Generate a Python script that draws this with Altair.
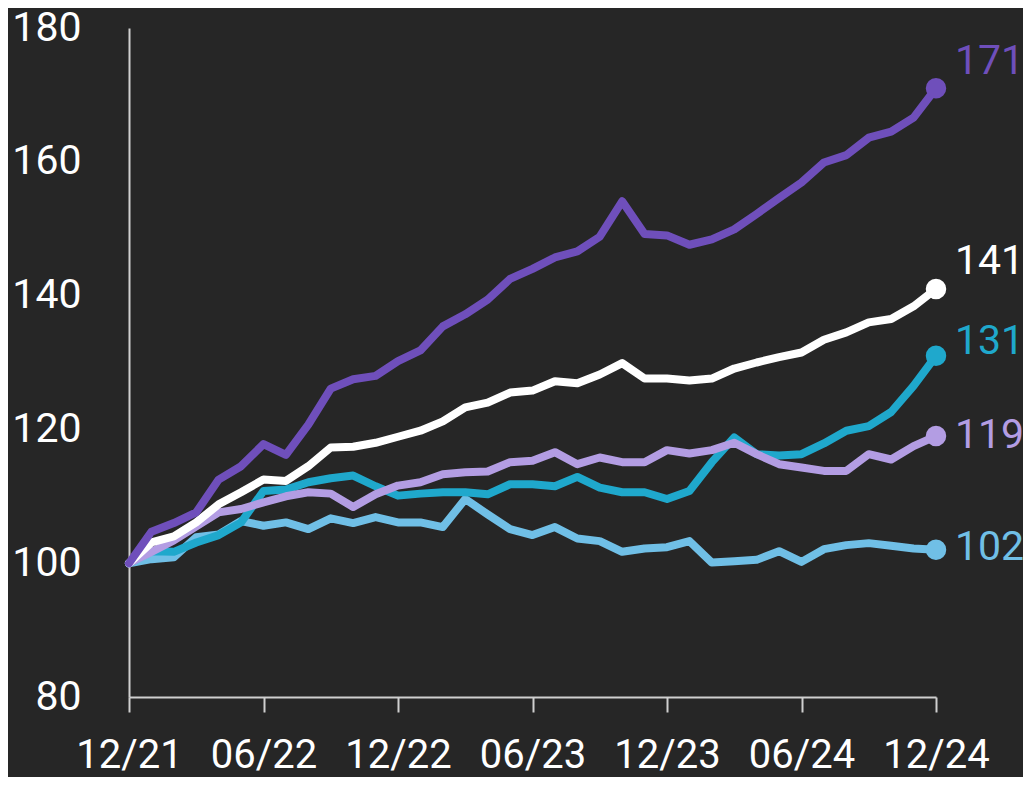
import altair as alt
import pandas as pd

tick_labels = ["12/21", "06/22", "12/22", "06/23", "12/23", "06/24", "12/24"]
months = list(range(37))

purple = [100, 104.7, 106, 107.6, 112.5, 114.5, 117.8, 116.2, 120.7, 126.1,
          127.5, 128, 130.2, 131.8, 135.4, 137.2, 139.4, 142.5, 144, 145.7,
          146.6, 148.8, 154.1, 149.2, 149, 147.6, 148.4, 149.9, 152.2, 154.6,
          156.9, 159.9, 161, 163.6, 164.5, 166.6, 171]
white = [100, 103.1, 104, 106.1, 108.8, 110.6, 112.5, 112.3, 114.5, 117.3,
         117.4, 118, 118.9, 119.8, 121.2, 123.3, 124, 125.5, 125.8, 127.2,
         126.9, 128.2, 129.9, 127.6, 127.6, 127.3, 127.6, 129.1, 130, 130.8,
         131.5, 133.4, 134.5, 136, 136.5, 138.4, 141]
teal = [100, 101.8, 101.7, 103.1, 104.2, 106.1, 110.8, 111, 112.1, 112.7,
        113.1, 111.5, 110.1, 110.4, 110.6, 110.6, 110.3, 111.8, 111.8, 111.5,
        112.9, 111.3, 110.6, 110.6, 109.6, 110.8, 115.1, 118.8, 116.3, 116.1,
        116.3, 117.9, 119.8, 120.5, 122.6, 126.5, 131]
lavender = [100, 101.7, 103.4, 105.5, 107.6, 108.1, 109.1, 110, 110.6, 110.4,
            108.4, 110.3, 111.6, 112.1, 113.3, 113.6, 113.7, 115.1, 115.3, 116.6,
            114.8, 115.8, 115.1, 115.1, 116.9, 116.4, 116.9, 118, 116.3, 114.8,
            114.3, 113.8, 113.8, 116.3, 115.5, 117.5, 119]
lightblue = [100, 100.6, 100.9, 103.9, 104.3, 106.3, 105.6, 106.1, 105.1, 106.7,
             106, 106.9, 106.1, 106.1, 105.4, 109.6, 107.3, 105.1, 104.2, 105.4,
             103.7, 103.3, 101.7, 102.2, 102.4, 103.3, 100.1, 100.3, 100.5, 101.8,
             100.2, 102.1, 102.7, 103, 102.6, 102.2, 102]

series_names = ["lightblue", "teal", "lavender", "white", "purple"]
series_values = [lightblue, teal, lavender, white, purple]
colors = ["#70bfe6", "#1fa8cc", "#b39de3", "#ffffff", "#6f4fbb"]
label_dy = [-2, -14, 0, -27, -26]

FONT = "Roboto"
FS = 41
XFS = 40

rows = []
for name, vals in zip(series_names, series_values):
    for m, v in zip(months, vals):
        rows.append({"series": name, "month": m, "value": v})
df = pd.DataFrame(rows)
last = df[df["month"] == months[-1]].copy()
last["label"] = last["value"].round().astype(int).astype(str)

label_expr = "[" + ",".join(f"'{t}'" for t in tick_labels) + "][round(datum.value/6)]"

x = alt.X("month:Q", scale=alt.Scale(domain=[0, 36], nice=False),
          axis=alt.Axis(values=[0, 6, 12, 18, 24, 30, 36], labelExpr=label_expr,
                        grid=False, domain=True, domainColor="#cfcfcf", domainWidth=2,
                        ticks=True, tickColor="#cfcfcf", tickSize=15, tickWidth=2,
                        labelColor="#ffffff", labelFont=FONT, labelFontSize=XFS,
                        labelPadding=23, labelBaseline="top", title=None,
                        labelFlush=False, labelOverlap=False))
y = alt.Y("value:Q", scale=alt.Scale(domain=[80, 180], nice=False),
          axis=alt.Axis(values=[80, 100, 120, 140, 160, 180], grid=False,
                        domain=True, domainColor="#cfcfcf", domainWidth=2,
                        ticks=False, labelColor="#ffffff", labelFont=FONT,
                        labelFontSize=FS, labelPadding=48, title=None))
color = alt.Color("series:N", scale=alt.Scale(domain=series_names, range=colors), legend=None)

lines = alt.Chart(df).mark_line(strokeWidth=8, strokeJoin="round", strokeCap="round").encode(
    x=x, y=y, color=color, detail="series:N", order="month:Q")

dots = alt.Chart(last).mark_circle(size=420, opacity=1).encode(
    x="month:Q", y="value:Q", color=color)

layers = [lines, dots]
for name, dy in zip(series_names, label_dy):
    t = alt.Chart(last[last["series"] == name]).mark_text(
        align="left", baseline="middle", dx=19, dy=dy, font=FONT, fontSize=FS).encode(
        x="month:Q", y="value:Q", text="label:N", color=color)
    layers.append(t)

chart = alt.layer(*layers).properties(
    width=807, height=669,
    background="#262626",
    autosize=alt.AutoSizeParams(type="none"),
    padding={"left": 121, "top": 20, "right": 87, "bottom": 80},
).configure_view(stroke=None)

chart.save("out.html", embed_options={"renderer": "svg", "actions": False})
